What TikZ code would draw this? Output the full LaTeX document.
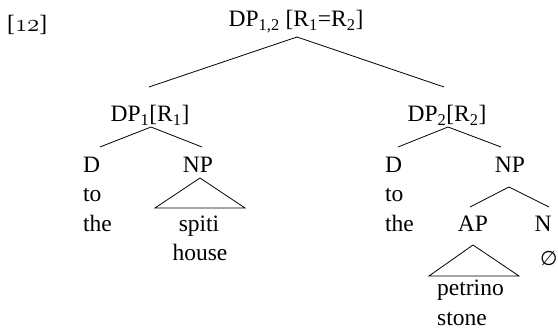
\documentclass[tikz,border=0pt]{standalone}
\usepackage{fontspec}
\setmainfont{Liberation Serif}
\newfontfamily\symfont{DejaVu Sans}
\begin{document}
\begin{tikzpicture}[x=1pt,y=-1pt,
  lbl/.style={inner sep=0pt,font=\fontsize{23.5}{28}\selectfont,anchor=base},
  lblw/.style={lbl,anchor=base west},
  edge/.style={line width=0.8pt}]
\useasboundingbox (0,0) rectangle (558,331);
% labels
\node[lblw] (ex) at (7,32) {[{\fontsize{27}{30}\usefont{OML}{cmm}{m}{it}12}]};
\node[lbl] (root) at (296,27) {DP\textsubscript{1,2} [R\textsubscript{1}=R\textsubscript{2}]};
\node[lbl] (dp1) at (150,122) {DP\textsubscript{1}[R\textsubscript{1}]};
\node[lbl] (dp2) at (447,122) {DP\textsubscript{2}[R\textsubscript{2}]};
\node[lblw] (d1) at (83,173) {D};
\node[lbl] (np1) at (198,173) {NP};
\node[lblw] (to1) at (83,202) {to};
\node[lblw] (the1) at (83,232) {the};
\node[lbl] (spiti) at (199,232) {spiti};
\node[lbl] (house) at (200,261) {house};
\node[lblw] (d2) at (385,173) {D};
\node[lbl] (np2) at (510,173) {NP};
\node[lblw] (to2) at (385,202) {to};
\node[lblw] (the2) at (385,232) {the};
\node[lbl] (ap) at (473,232) {AP};
\node[lbl] (n) at (543,232) {N};
\node[lblw] (empty) at (540,266) {\symfont\fontsize{20}{24}\selectfont ∅};
\node[lblw] (petrino) at (437,296) {petrino};
\node[lblw] (stone) at (437,326) {stone};
% edge end points
\coordinate (r0) at (297,37);
\coordinate (dp1t) at (149,87);
\coordinate (dp2t) at (444,87);
\coordinate (dp1b) at (151,127);
\coordinate (d1t) at (100,147);
\coordinate (np1t) at (202,147);
\coordinate (dp2b) at (448,127);
\coordinate (d2t) at (398,147);
\coordinate (np2t) at (501,147);
\coordinate (np1b) at (200,178);
\coordinate (tri1l) at (155,208);
\coordinate (tri1r) at (245,208);
\coordinate (np2b) at (509,187);
\coordinate (apt) at (470,207);
\coordinate (nt) at (549,207);
\coordinate (apb) at (473,245);
\coordinate (tri2l) at (429,276);
\coordinate (tri2r) at (519,276);
% edges
\draw[edge] (dp1t) -- (r0) -- (dp2t);
\draw[edge] (d1t) -- (dp1b) -- (np1t);
\draw[edge] (d2t) -- (dp2b) -- (np2t);
\draw[edge] (np1b) -- (tri1l) -- (tri1r) -- cycle;
\draw[edge] (apt) -- (np2b) -- (nt);
\draw[edge] (apb) -- (tri2l) -- (tri2r) -- cycle;
\end{tikzpicture}
\end{document}
